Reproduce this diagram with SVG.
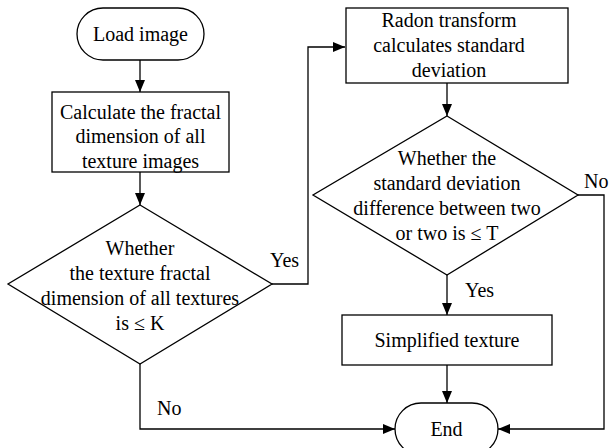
<svg xmlns="http://www.w3.org/2000/svg" width="609" height="448" viewBox="0 0 609 448">
<defs>
<marker id="a" viewBox="0 0 12 10" refX="12" refY="5" markerWidth="12" markerHeight="10" markerUnits="userSpaceOnUse" orient="auto">
<path d="M0,0L12,5L0,10z" fill="#000"/>
</marker>
</defs>
<rect width="609" height="448" fill="#fff"/>
<g id="connectors" fill="none" stroke="#000" stroke-width="1.3">
<line x1="140" y1="60" x2="140" y2="92" marker-end="url(#a)"/>
<line x1="140" y1="172" x2="140" y2="205" marker-end="url(#a)"/>
<polyline points="272,284 308,284 308,47 345,47" marker-end="url(#a)"/>
<polyline points="140,364 140,429 395,429" marker-end="url(#a)"/>
<line x1="447" y1="83" x2="447" y2="116" marker-end="url(#a)"/>
<line x1="447" y1="275" x2="447" y2="315" marker-end="url(#a)"/>
<line x1="447" y1="365" x2="447" y2="403" marker-end="url(#a)"/>
<polyline points="577,195 604,195 604,429 498,429" marker-end="url(#a)"/>
</g>
<g id="labels" font-size="20" font-family="Liberation Serif" fill="#000">
<text x="270" y="267">Yes</text>
<text x="157" y="415">No</text>
<text x="465" y="297">Yes</text>
<text x="584" y="188">No</text>
</g>
<g id="load">
<rect x="77" y="8" width="127" height="52" rx="26" fill="#fff" stroke="#000" stroke-width="1.3"/>
<text x="140.5" y="41" text-anchor="middle" font-size="20" font-family="Liberation Serif">Load image</text>
</g>
<g id="calc">
<rect x="52" y="92" width="177" height="80" fill="#fff" stroke="#000" stroke-width="1.3"/>
<g text-anchor="middle" font-size="20" font-family="Liberation Serif">
<text x="140.5" y="119">Calculate the fractal</text>
<text x="140.5" y="143">dimension of all</text>
<text x="140.5" y="168">texture images</text>
</g>
</g>
<g id="dec1">
<polygon points="140,205 272,284 140,364 8,284" fill="#fff" stroke="#000" stroke-width="1.3"/>
<g text-anchor="middle" font-size="20" font-family="Liberation Serif">
<text x="140" y="255">Whether</text>
<text x="140" y="280">the texture fractal</text>
<text x="140" y="305">dimension of all textures</text>
<text x="140" y="330">is ≤ K</text>
</g>
</g>
<g id="radon">
<rect x="346" y="8" width="222" height="75" fill="#fff" stroke="#000" stroke-width="1.3"/>
<g text-anchor="middle" font-size="20" font-family="Liberation Serif">
<text x="449" y="27">Radon transform</text>
<text x="449" y="52">calculates standard</text>
<text x="449" y="77">deviation</text>
</g>
</g>
<g id="dec2">
<polygon points="447,116 578,195 447,275 313,195" fill="#fff" stroke="#000" stroke-width="1.3"/>
<g text-anchor="middle" font-size="20" font-family="Liberation Serif">
<text x="447" y="165">Whether the</text>
<text x="447" y="190">standard deviation</text>
<text x="447" y="215">difference between two</text>
<text x="447" y="240">or two is ≤ T</text>
</g>
</g>
<g id="simp">
<rect x="342" y="315" width="210" height="50" fill="#fff" stroke="#000" stroke-width="1.3"/>
<text x="447" y="347" text-anchor="middle" font-size="20" font-family="Liberation Serif">Simplified texture</text>
</g>
<g id="end">
<rect x="395" y="403" width="103" height="52" rx="26" fill="#fff" stroke="#000" stroke-width="1.3"/>
<text x="446.5" y="436" text-anchor="middle" font-size="20" font-family="Liberation Serif">End</text>
</g>
</svg>
